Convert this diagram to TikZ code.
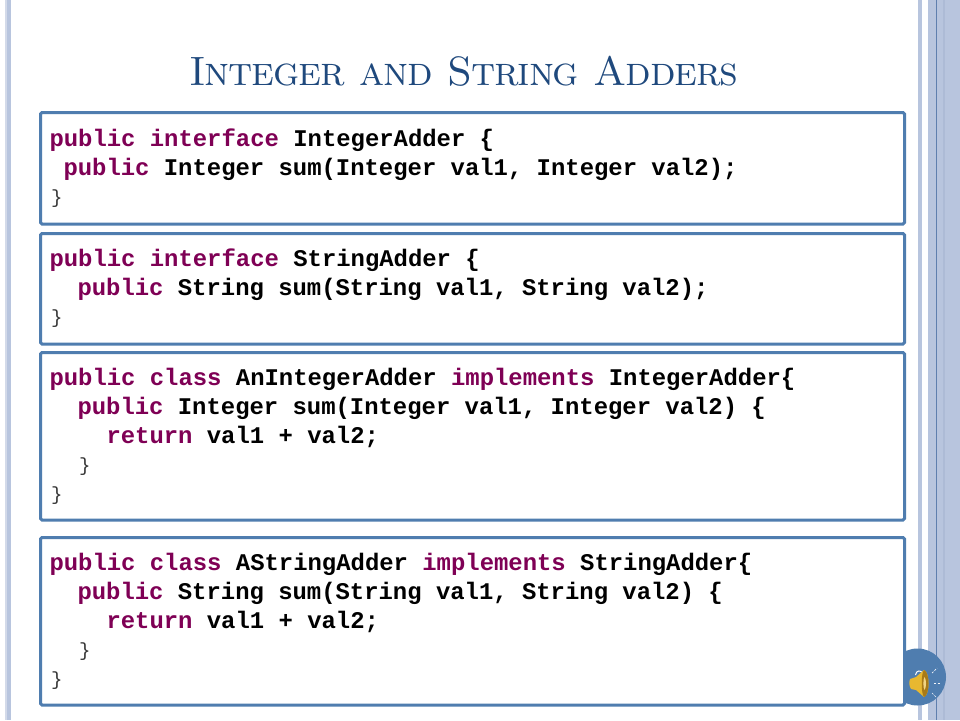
\documentclass[tikz,border=0pt]{standalone}
\usepackage{fontspec}
\setmonofont{Liberation Mono}
\newfontfamily\titlefont[LetterSpace=-2.85,SmallCapsFont={Latin Modern Roman Caps},SmallCapsFeatures={LetterSpace=-2.85}]{Latin Modern Roman}
\definecolor{stripe}{HTML}{B8C5DE}
\definecolor{stripeLight}{HTML}{D3DAE9}
\definecolor{stripeDark}{HTML}{ADBBD6}
\definecolor{boxblue}{HTML}{4F7DAF}
\definecolor{linedark}{HTML}{5F7FAE}
\definecolor{titleblue}{HTML}{1F497D}
\definecolor{kw}{HTML}{7F0055}
\definecolor{brace}{HTML}{333333}
\definecolor{spk}{HTML}{E8B830}
\definecolor{spkdark}{HTML}{A87A18}
\newcommand{\K}[1]{\textcolor{kw}{#1}}
\tikzset{
  x=1pt,y=-1pt,
  codebox/.style={draw=boxblue,fill=white,line width=3pt,rounded corners=1.5pt},
  codeline/.style={anchor=base west,inner sep=0pt,outer sep=0pt,font=\fontsize{23.9}{29}\selectfont\ttfamily\bfseries,text=black},
  closebrace/.style={anchor=base west,inner sep=0pt,outer sep=0pt,font=\fontsize{19}{24}\selectfont\ttfamily,text=brace},
  titletext/.style={anchor=base,inner sep=0pt,outer sep=0pt,text=titleblue,font=\titlefont\fontsize{41}{50}\selectfont\scshape},
  band/.style={fill=stripe,draw=none},
}
\begin{document}
\begin{tikzpicture}
\useasboundingbox (0,0) rectangle (960,720);
\fill[white] (0,0) rectangle (960,720);
% side bands
\fill[stripeLight] (5,0) rectangle (7,720);
\fill[band] (7,0) rectangle (11,720);
\fill[band] (918,0) rectangle (922,720);
\fill[band] (928,0) rectangle (960,720);
\fill[stripeDark] (943,0) rectangle (945,720);
\fill[linedark] (935.8,0) rectangle (936.8,720);
% sound badge
\fill[boxblue] (917.5,677) circle[radius=28.5];
% title
\node[titletext] (title) at (464,85.5) {Integer and String Adders};
% boxes
\draw[codebox] (40.5,112.5) rectangle (904.5,224);
\draw[codebox] (40.5,233.5) rectangle (904.5,344);
\draw[codebox] (40.5,352.5) rectangle (904.5,520);
\draw[codebox] (40.5,537.5) rectangle (904.5,705);
% box 1
\node[codeline] (a1) at (49.5,146) {\K{public interface} IntegerAdder \{};
\node[codeline] (a2) at (63.5,175) {\K{public} Integer sum(Integer val1, Integer val2);};
\node[closebrace] (a3) at (51,203) {\}};
% box 2
\node[codeline] (b1) at (49.5,266) {\K{public interface} StringAdder \{};
\node[codeline] (b2) at (77.5,295) {\K{public} String sum(String val1, String val2);};
\node[closebrace] (b3) at (51,323) {\}};
% box 3
\node[codeline] (c1) at (49.5,385) {\K{public class} AnIntegerAdder \K{implements} IntegerAdder\{};
\node[codeline] (c2) at (77.5,414) {\K{public} Integer sum(Integer val1, Integer val2) \{};
\node[codeline] (c3) at (106.5,443) {\K{return} val1 + val2;};
\node[closebrace] (c4) at (79,471) {\}};
\node[closebrace] (c5) at (51,500) {\}};
% box 4
\node[codeline] (d1) at (49.5,570) {\K{public class} AStringAdder \K{implements} StringAdder\{};
\node[codeline] (d2) at (77.5,599) {\K{public} String sum(String val1, String val2) \{};
\node[codeline] (d3) at (106.5,628) {\K{return} val1 + val2;};
\node[closebrace] (d4) at (79,656) {\}};
\node[closebrace] (d5) at (51,685) {\}};
% speaker
\draw[white,line width=1pt] (915.5,675) .. controls (916,670) and (921,670) .. (922.5,673);
\fill[spk] (910,679) -- (916,677) -- (924,670) .. controls (930,672) and (930,695) .. (924,697) -- (916,690) -- (911,689) .. controls (909,686) and (909,682) .. (910,679) -- cycle;
\fill[spkdark] (924,670) .. controls (930,672) and (930,695) .. (924,697) .. controls (921,695) and (921,672) .. (924,670) -- cycle;
\fill[spk!60!white] (924.5,677) .. controls (926.5,679) and (926.5,688) .. (924.5,690) .. controls (923,688) and (923,679) .. (924.5,677) -- cycle;
\draw[white!85!stripe,line width=.7pt,dash pattern=on 2pt off 1.5pt] (932,673) -- (937,668);
\draw[white!85!stripe,line width=.7pt,dash pattern=on 2pt off 1.5pt] (934,683) -- (941,683);
\draw[white!85!stripe,line width=.7pt,dash pattern=on 2pt off 1.5pt] (932,693) -- (937,698);
\end{tikzpicture}
\end{document}
